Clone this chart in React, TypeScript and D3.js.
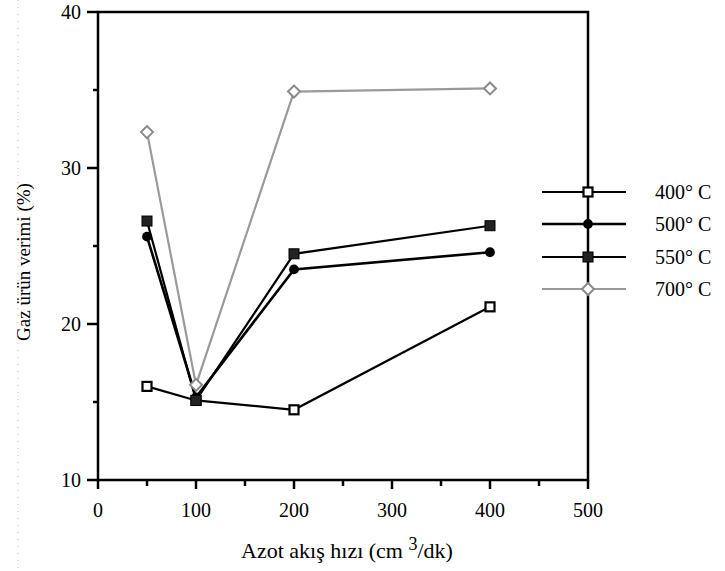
import React from "react";
import * as d3 from "d3";

const flows = [50, 100, 200, 400];
const s400 = [16.0, 15.1, 14.5, 21.1];
const s500 = [25.6, 15.3, 23.5, 24.6];
const s550 = [26.6, 15.1, 24.5, 26.3];
const s700 = [32.3, 16.1, 34.9, 35.1];
const seriesNames = ["400° C", "500° C", "550° C", "700° C"];
const xTicks = [0, 100, 200, 300, 400, 500];
const yTicks = [10, 20, 30, 40];

const W = 725, H = 571;
const m = { left: 98, right: 588, top: 12, bottom: 480 };

export default function App() {
  const x = d3.scaleLinear().domain([0, 500]).range([m.left, m.right]);
  const y = d3.scaleLinear().domain([10, 40]).range([m.bottom, m.top]);
  const line = d3.line<[number, number]>().x(d => x(d[0])).y(d => y(d[1]));
  const all = [s400, s500, s550, s700];
  const styles = [
    { stroke: "#000", width: 2.2, marker: "openSquare" },
    { stroke: "#000", width: 2.6, marker: "circle" },
    { stroke: "#000", width: 2.2, marker: "filledSquare" },
    { stroke: "#9a9a9a", width: 2.2, marker: "diamond" },
  ];
  const marker = (kind: string, cx: number, cy: number, key: string) => {
    if (kind === "openSquare")
      return <rect key={key} x={cx - 4.5} y={cy - 4.5} width={9} height={9} fill="#fff" stroke="#000" strokeWidth={2.2} />;
    if (kind === "filledSquare")
      return <rect key={key} x={cx - 5} y={cy - 5} width={10} height={10} fill="#222" stroke="#000" strokeWidth={1} />;
    if (kind === "circle")
      return <path key={key} d={d3.symbol().type(d3.symbolCircle).size(75)()!} transform={`translate(${cx},${cy})`} fill="#000" />;
    return <path key={key} d={`M${cx},${cy - 6}L${cx + 6},${cy}L${cx},${cy + 6}L${cx - 6},${cy}Z`} fill="#fff" stroke="#8a8a8a" strokeWidth={2} />;
  };
  const xMinor = d3.range(50, 500, 100);
  const yMinor = [15, 25, 35];
  const legendY = [192, 224, 257, 289];
  return (
    <svg width={W} height={H} style={{ position: "absolute", left: 0, top: 0, fontFamily: "'Liberation Serif', serif" }}>
      <rect width={W} height={H} fill="#fff" />
      <line x1={18} x2={18} y1={0} y2={571} stroke="#bbb" strokeWidth={1} strokeDasharray="1,6" />
      <rect x={m.left} y={m.top} width={m.right - m.left} height={m.bottom - m.top} fill="none" stroke="#000" strokeWidth={2.5} />
      {yTicks.map(t => (
        <g key={"yt" + t}>
          <line x1={m.left - 11} x2={m.left} y1={y(t)} y2={y(t)} stroke="#000" strokeWidth={2.5} />
          <text x={m.left - 17} y={y(t) + 7} textAnchor="end" fontSize={20}>{t}</text>
        </g>
      ))}
      {yMinor.map(t => (
        <line key={"ym" + t} x1={m.left - 5} x2={m.left} y1={y(t)} y2={y(t)} stroke="#000" strokeWidth={2.5} />
      ))}
      {xTicks.map(t => (
        <g key={"xt" + t}>
          <line x1={x(t)} x2={x(t)} y1={m.bottom} y2={m.bottom + 9} stroke="#000" strokeWidth={2.5} />
          <text x={x(t)} y={m.bottom + 37} textAnchor="middle" fontSize={20}>{t}</text>
        </g>
      ))}
      {xMinor.map(t => (
        <line key={"xm" + t} x1={x(t)} x2={x(t)} y1={m.bottom} y2={m.bottom + 6} stroke="#000" strokeWidth={2.5} />
      ))}
      {all.map((s, i) => (
        <path key={"l" + i} d={line(flows.map((f, j) => [f, s[j]] as [number, number]))!} fill="none" stroke={styles[i].stroke} strokeWidth={styles[i].width} />
      ))}
      {all.map((s, i) => s.map((v, j) => marker(styles[i].marker, x(flows[j]), y(v), `m${i}-${j}`)))}
      {seriesNames.map((n, i) => (
        <g key={"lg" + i}>
          <line x1={542} x2={626} y1={legendY[i]} y2={legendY[i]} stroke={styles[i].stroke} strokeWidth={styles[i].width} />
          {marker(styles[i].marker, 588, legendY[i], "lm" + i)}
          <text x={655} y={legendY[i] + 7} fontSize={20}>{n}</text>
        </g>
      ))}
      <text transform={`translate(30,262) rotate(-90)`} textAnchor="middle" fontSize={19}>Gaz ürün verimi (%)</text>
      <text x={347} y={558} textAnchor="middle" fontSize={22}>
        Azot akış hızı (cm <tspan dy={-8} fontSize={18}>3</tspan><tspan dy={8}>/dk)</tspan>
      </text>
    </svg>
  );
}
